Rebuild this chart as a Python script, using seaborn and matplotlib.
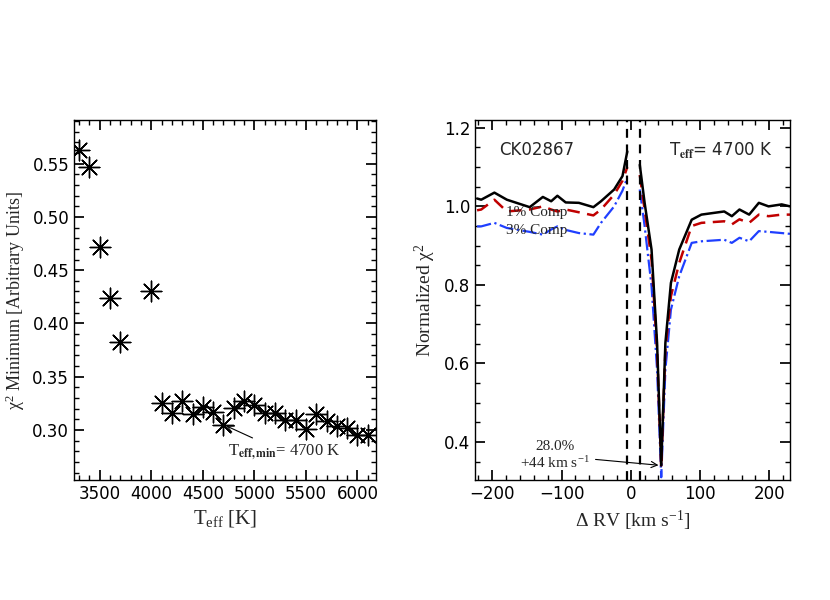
import matplotlib
matplotlib.use("Agg")
import matplotlib.pyplot as plt
import seaborn as sns
import numpy as np
import pandas as pd
from matplotlib.ticker import MultipleLocator

sns.set_theme(style="ticks")
plt.rcParams['font.family'] = ['DejaVu Sans']
plt.rcParams['mathtext.fontset'] = 'stix'

teff = [3300, 3400, 3500, 3600, 3700, 4000, 4100, 4200, 4300, 4400, 4500, 4600, 4700,
        4800, 4900, 5000, 5100, 5200, 5300, 5400, 5500, 5600, 5700, 5800, 5900, 6000, 6100]
chi2min = [0.563, 0.547, 0.472, 0.424, 0.383, 0.430, 0.325, 0.316, 0.327, 0.315, 0.322, 0.317, 0.305,
           0.321, 0.327, 0.323, 0.316, 0.316, 0.309, 0.309, 0.301, 0.315, 0.308, 0.304, 0.302, 0.295, 0.295]

rv_l = [-222, -216, -197, -179, -146, -127, -115, -106, -94, -75, -54, -43, -24, -12, -5]
blk_l = [1.02, 1.017, 1.035, 1.017, 0.998, 1.024, 1.013, 1.027, 1.01, 1.009, 0.998, 1.013, 1.043, 1.077, 1.14]
red_l = [0.99, 0.992, 1.017, 0.987, 0.992, 1.0, 0.992, 0.987, 0.992, 0.985, 0.977, 0.992, 1.03, 1.065, 1.10]
blu_l = [0.949, 0.949, 0.958, 0.945, 0.935, 0.928, 0.941, 0.949, 0.94, 0.932, 0.928, 0.958, 1.0, 1.04, 1.073]
rv_r = [13, 20, 30, 38, 44, 50, 58, 70, 88, 102, 135, 146, 157, 171, 185, 199, 218, 230]
blk_r = [1.106, 1.009, 0.89, 0.652, 0.34, 0.652, 0.805, 0.89, 0.966, 0.979, 0.987, 0.975, 0.992, 0.979, 1.009, 1.0, 1.005, 1.0]
red_r = [1.08, 0.992, 0.864, 0.635, 0.335, 0.635, 0.771, 0.856, 0.95, 0.958, 0.962, 0.954, 0.967, 0.958, 0.979, 0.975, 0.979, 0.979]
blu_r = [1.043, 0.95, 0.797, 0.584, 0.31, 0.584, 0.737, 0.822, 0.907, 0.911, 0.915, 0.907, 0.92, 0.911, 0.937, 0.935, 0.932, 0.93]

fig = plt.figure(figsize=(8.3, 6.0), dpi=100)
ax1 = fig.add_axes([74/830, 1-480/600, 302/830, 360/600])
ax2 = fig.add_axes([475/830, 1-480/600, 315/830, 360/600])

df1 = pd.DataFrame({"teff": teff, "chi2": chi2min})
sns.scatterplot(data=df1, x="teff", y="chi2", ax=ax1, marker=(8, 2, 0), s=220,
                color="black", linewidth=1.0, legend=False)
ax1.set_xlim(3250, 6180)
ax1.set_ylim(0.253, 0.591)
ax1.xaxis.set_major_locator(MultipleLocator(500))
ax1.xaxis.set_minor_locator(MultipleLocator(100))
ax1.yaxis.set_major_locator(MultipleLocator(0.05))
ax1.yaxis.set_minor_locator(MultipleLocator(0.01))
ax1.set_xlabel(r"$\mathregular{T_{eff}}$ [K]", family="Liberation Serif", fontsize=15)
ax1.set_ylabel(r"$\mathregular{\chi^2}$ Minimum [Arbitrary Units]", family="Liberation Serif", fontsize=13)
ax1.annotate(r"$\mathregular{T_{\bf eff,min}}$= 4700 K", xy=(4700, 0.305), xytext=(4740, 0.276),
             fontsize=12, family="Liberation Serif",
             arrowprops=dict(arrowstyle="->", color="black", lw=0.8))

df_l = pd.DataFrame({"rv": rv_l, "b": blk_l, "r": red_l, "u": blu_l})
df_r = pd.DataFrame({"rv": rv_r, "b": blk_r, "r": red_r, "u": blu_r})
for d in (df_l, df_r):
    sns.lineplot(data=d, x="rv", y="u", ax=ax2, color="#1f3fff", lw=1.6, linestyle="-.")
    sns.lineplot(data=d, x="rv", y="r", ax=ax2, color="#c00000", lw=1.8, linestyle=(0, (5, 3)))
    sns.lineplot(data=d, x="rv", y="b", ax=ax2, color="black", lw=1.8)
for xv in (-5, 13):
    ax2.axvline(xv, color="black", lw=1.6, linestyle=(0, (4, 3)))
ax2.set_xlim(-225, 230)
ax2.set_ylim(0.303, 1.22)
ax2.xaxis.set_major_locator(MultipleLocator(100))
ax2.xaxis.set_minor_locator(MultipleLocator(20))
ax2.yaxis.set_major_locator(MultipleLocator(0.2))
ax2.yaxis.set_minor_locator(MultipleLocator(0.05))
ax2.set_xlabel(r"Δ RV [km s$\mathregular{^{-1}}$]", family="Liberation Serif", fontsize=14)
ax2.set_ylabel(r"Normalized $\mathregular{\chi^2}$", family="Liberation Serif", fontsize=14)
ax2.text(-190, 1.13, "CK02867", fontsize=12)
ax2.text(55, 1.13, r"$\mathregular{T_{\bf eff}}$= 4700 K", fontsize=12)
ax2.text(-180, 0.975, "1% Comp", fontsize=11, family="Liberation Serif")
ax2.text(-180, 0.93, "3% Comp", fontsize=11, family="Liberation Serif")
ax2.annotate("28.0%\n+44 km s$\\mathregular{^{-1}}$", xy=(44, 0.34), xytext=(-110, 0.365),
             fontsize=11, family="Liberation Serif", ha="center", va="center",
             arrowprops=dict(arrowstyle="->", color="black", lw=0.8))

for ax in (ax1, ax2):
    ax.tick_params(which="both", direction="in", top=True, right=True, colors="black", labelsize=12)
    ax.tick_params(which="major", length=7)
    ax.tick_params(which="minor", length=3.5)
    for s in ax.spines.values():
        s.set_color("black"); s.set_linewidth(1.0)

fig.savefig("out.png", dpi=100)
